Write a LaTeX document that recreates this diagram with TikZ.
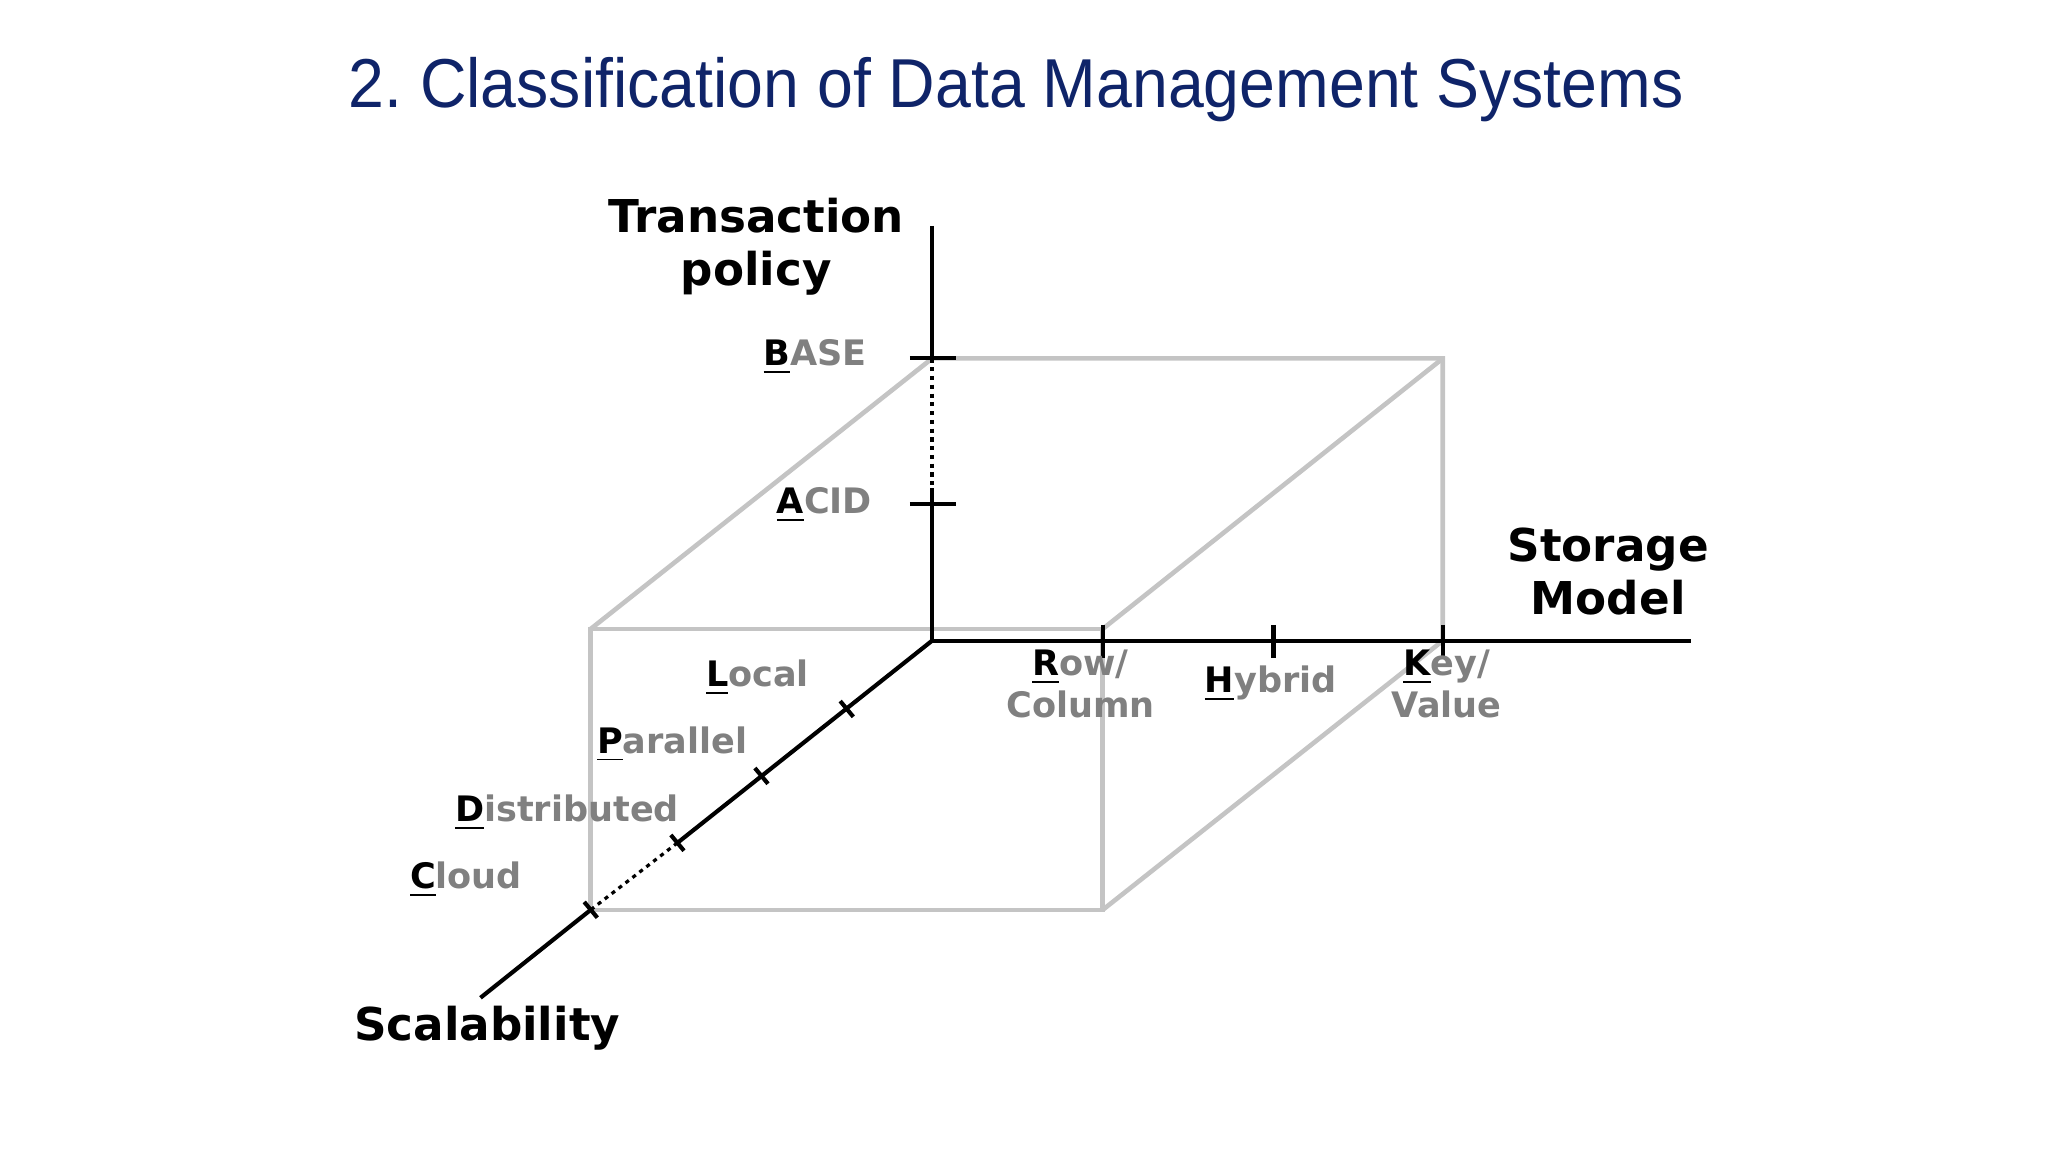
\documentclass[tikz,border=0pt]{standalone}
\usepackage{fontspec}
\usetikzlibrary{calc}
\setmainfont{DejaVu Sans}
\newfontfamily\titlefont{Liberation Sans}
\definecolor{navy}{HTML}{0F2469}
\definecolor{tgrey}{HTML}{808080}
\definecolor{bgrey}{HTML}{C4C4C4}
\newcommand{\ul}[2]{\textcolor{black}{\underline{#1}}\textcolor{tgrey}{#2}}
\begin{document}
\begin{tikzpicture}[x=0.01cm,y=-0.01cm,
  boxline/.style={draw=bgrey,line width=1.0pt},
  axisline/.style={draw=black,line width=0.9pt},
  tickline/.style={draw=black,line width=0.9pt},
  axlabel/.style={font=\fontsize{9.8}{11.5}\selectfont\bfseries,align=center,inner sep=0pt},
  ticklabel/.style={font=\fontsize{7.6}{9.2}\selectfont\bfseries,align=center,inner sep=0pt,text=tgrey}]
\useasboundingbox (0,0) rectangle (1560,877.5);
\node[font=\titlefont\fontsize{15}{17}\selectfont,text=navy,inner sep=0pt,draw=navy,draw opacity=0] (title) at (774,68) {\scalebox{0.93}[1]{2.~Classification of Data Management Systems}};
% box
\coordinate (f1) at (450,479); \coordinate (f2) at (840,479);
\coordinate (f3) at (840,693); \coordinate (f4) at (450,693);
\coordinate (b1) at (710,273); \coordinate (b2) at (1099,273);
\coordinate (b3) at (1099,488); 
\draw[boxline] (f1) -- (f2) -- (f3) -- (f4) -- cycle;
\draw[boxline] (f1) -- (b1) -- (b2) -- (b3) -- (f3);
\draw[boxline] (f2) -- (b2);
% axes
\coordinate (O) at (710,488);
\coordinate (vt) at (710,172); \coordinate (vb) at (710,273); \coordinate (va) at (710,372);
\coordinate (hend) at (1288,488);
\coordinate (s1) at (645,540); \coordinate (s2) at (580,591); \coordinate (s3) at (516,642); \coordinate (s4) at (450,693);
\coordinate (send) at (366,760);
\draw[axisline] (vt) -- (vb);
\draw[axisline,densely dotted,line width=0.7pt] (vb) -- (va);
\draw[axisline] (va) -- (O) -- (hend);
\draw[axisline] (O) -- (s3);
\draw[axisline,densely dotted,line width=0.7pt] (s3) -- (s4);
\draw[axisline] (s4) -- (send);
% ticks
\foreach \y in {273,384} \draw[tickline] (693,\y) -- (728,\y);
\foreach \x in {840,970,1099} \draw[tickline] (\x,476) -- (\x,501);
\foreach \p in {s1,s2,s3,s4} \draw[tickline] ($(\p)+(-5,-6)$) -- ($(\p)+(5,6)$);
% labels
\node[axlabel] (tp) at (576,188) {Transaction\\policy};
\node[axlabel] (sm) at (1225,435) {Storage\\Model};
\node[axlabel] (sc) at (371,783) {Scalability};
\node[ticklabel] (base) at (621,272) {\ul{B}{ASE}};
\node[ticklabel] (acid) at (628,385) {\ul{A}{CID}};
\node[ticklabel] (loc) at (577,516) {\ul{L}{ocal}};
\node[ticklabel] (par) at (512,567) {\ul{P}{arallel}};
\node[ticklabel] (dis) at (432,619) {\ul{D}{istributed}};
\node[ticklabel] (clo) at (355,670) {\ul{C}{loud}};
\node[ticklabel] (row) at (823,521) {\ul{R}{ow/}\\Column};
\node[ticklabel] (hyb) at (968,521) {\ul{H}{ybrid}};
\node[ticklabel] (key) at (1102,521) {\ul{K}{ey/}\\Value};
\end{tikzpicture}
\end{document}
